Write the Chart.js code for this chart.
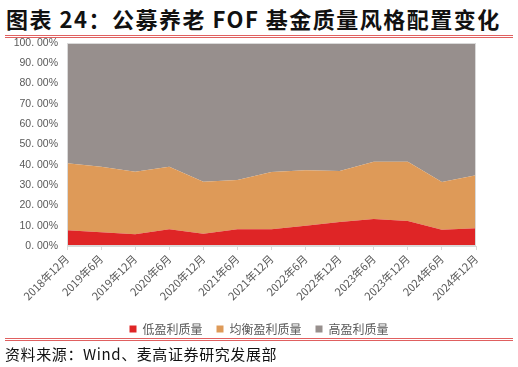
<!DOCTYPE html>
<html>
<head>
<meta charset="utf-8">
<script src="https://cdn.jsdelivr.net/npm/chart.js@4"></script>
<style>
  body { margin: 0; width: 518px; height: 367px; background: #fff; position: relative; overflow: hidden; font-family: "Noto Sans CJK SC", sans-serif; }
  #title { position: absolute; left: 6px; top: 2px; font-size: 22px; font-weight: bold; color: #111; white-space: nowrap; letter-spacing: 1.5px; }
  .rule { position: absolute; left: 5px; width: 508px; height: 1px; background: #e06060; }
  #source { position: absolute; left: 5px; top: 343px; font-size: 15px; color: #111; white-space: nowrap; letter-spacing: 0.6px; }
  #wrap { position: absolute; left: 0; top: 30px; width: 518px; height: 315px; }
</style>
</head>
<body>
<div id="title">图表 24：公募养老 FOF 基金质量风格配置变化</div>
<div class="rule" style="top:35px"></div>
<div class="rule" style="top:37px"></div>
<div id="wrap"><canvas id="chart"></canvas></div>
<div class="rule" style="top:338px"></div>
<div class="rule" style="top:340px"></div>
<div id="source">资料来源：Wind、麦高证券研究发展部</div>
<script>
const periods = ['2018年12月', '2019年6月', '2019年12月', '2020年6月', '2020年12月', '2021年6月', '2021年12月', '2022年6月', '2022年12月', '2023年6月', '2023年12月', '2024年6月', '2024年12月'];
const lowQuality = [7.8, 6.8, 5.8, 8.3, 6.0, 8.3, 8.3, 10.0, 11.8, 13.3, 12.3, 8.0, 8.8];
const balancedQuality = [33.0, 32.2, 30.8, 30.7, 25.7, 24.2, 28.2, 27.3, 25.2, 28.2, 29.2, 23.5, 26.0];
const highQuality = [59.2, 61.0, 63.4, 61.0, 68.3, 67.5, 63.5, 62.7, 63.0, 58.5, 58.5, 68.5, 65.2];

// light frame around the plot area
const frame = {
    id: 'frame',
    afterDatasetsDraw(chart) {
        const a = chart.chartArea;
        const ctx = chart.ctx;
        ctx.save();
        ctx.strokeStyle = '#d9d9d9';
        ctx.lineWidth = 1;
        ctx.strokeRect(a.left + 0.5, a.top + 0.5, a.right - a.left - 1, a.bottom - a.top - 1);
        ctx.restore();
    }
};

// nudge the legend so it sits centred like the original
const legendShift = {
    id: 'legendShift',
    afterLayout(chart) {
        chart.legend.left += 21;
        chart.legend.right += 21;
    }
};

function area(label, data, color, fill) {
    return {
        label: label,
        data: data,
        backgroundColor: color,
        borderColor: color,
        borderWidth: 0,
        pointRadius: 0,
        tension: 0,
        fill: fill
    };
}

const ctx = document.getElementById('chart').getContext('2d');
new Chart(ctx, {
    type: 'line',
    data: {
        labels: periods,
        datasets: [
            area('低盈利质量', lowQuality, '#df2526', 'origin'),
            area('均衡盈利质量', balancedQuality, '#de9a58', '-1'),
            area('高盈利质量', highQuality, '#978f8d', '-1')
        ]
    },
    options: {
        responsive: true,
        maintainAspectRatio: false,
        animation: false,
        layout: { padding: { top: 13, right: 42, bottom: 0, left: 0 } },
        plugins: {
            legend: {
                position: 'bottom',
                labels: {
                    font: { family: 'Noto Sans CJK SC', size: 12 },
                    color: '#595959',
                    usePointStyle: true,
                    pointStyle: 'rect',
                    boxWidth: 7,
                    boxHeight: 7,
                    padding: 14
                }
            },
            tooltip: { enabled: false }
        },
        scales: {
            x: {
                offset: false,
                grid: { display: true, drawOnChartArea: false, drawTicks: true, tickLength: 4, color: '#d9d9d9' },
                border: { color: '#d9d9d9' },
                ticks: {
                    minRotation: 45,
                    maxRotation: 45,
                    autoSkip: false,
                    padding: 2,
                    font: { family: 'Noto Sans CJK SC', size: 11 },
                    color: '#595959'
                },
                afterFit(scale) { scale.height = 63; }
            },
            y: {
                stacked: true,
                min: 0,
                max: 100,
                grid: { display: false },
                border: { color: '#d9d9d9' },
                ticks: {
                    stepSize: 10,
                    padding: 1,
                    font: { family: 'Liberation Sans', size: 10.5 },
                    color: '#595959',
                    callback: v => v.toFixed(2).replace('.', '. ') + '%'
                },
                afterFit(scale) { scale.width = 67; }
            }
        }
    },
    plugins: [frame, legendShift]
});
</script>
</body>
</html>
